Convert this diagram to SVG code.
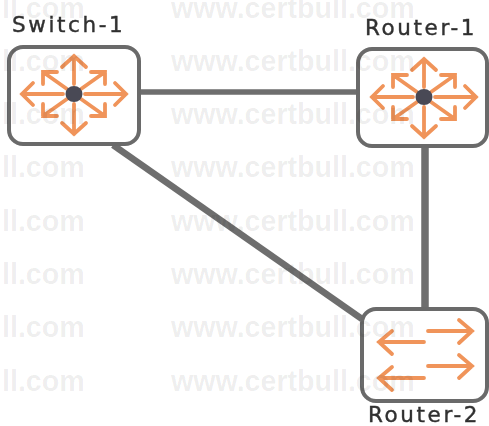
<svg xmlns="http://www.w3.org/2000/svg" xmlns:xlink="http://www.w3.org/1999/xlink" width="489" height="426" viewBox="0 0 489 426">
  <style>
    .box { fill: #ffffff; stroke: #6b6b6b; stroke-width: 4; }
    .link { stroke: #6e6e6e; fill: none; }
    .arrows { fill: none; stroke: #f0945a; stroke-width: 3.8; stroke-linecap: round; stroke-linejoin: miter; }
    .hub { fill: #4a4a54; }
    .label { font-family: "DejaVu Sans", sans-serif; font-size: 21.5px; fill: #303030; stroke: #303030; stroke-width: 0.4; letter-spacing: 2.6px; }
    .mark { font-family: "Liberation Sans", Arial, sans-serif; font-size: 28.6px; font-weight: 700; fill: #000000; fill-opacity: 0.075; }
  </style>
  <defs>
    <filter id="soft" x="-5%" y="-5%" width="110%" height="110%"><feGaussianBlur stdDeviation="0.7"/></filter>
    <g id="radial">
      <path class="arrows" d="M11,0H52M41,-11L52,0L41,11M-11,0H-52M-41,-11L-52,0L-41,11M0,-10V-38M-12,-27L0,-38L12,-27M0,10V40M-12,29L0,40L12,29"/>
      <path class="arrows" d="M-7,-5L-31,-22M-31,-10V-22H-17M7,-5L31,-22M31,-10V-22H17M-7,5L-31,22M-31,10V22H-17M7,5L31,22M31,10V22H17"/>
      <ellipse class="hub" cx="0" cy="0" rx="8.5" ry="8"/>
    </g>
  </defs>
  <rect width="489" height="426" fill="#ffffff"/>
  <g filter="url(#soft)">
    <g id="connectors">
      <line class="link" x1="139" y1="92" x2="358" y2="92" stroke-width="5.5"/>
      <line class="link" x1="425" y1="146" x2="425" y2="308" stroke-width="7.5"/>
      <line class="link" x1="113" y1="145" x2="362" y2="319" stroke-width="6.5"/>
    </g>
    <g id="switch-1">
      <rect class="box" x="9" y="47" width="130" height="97" rx="14"/>
      <use xlink:href="#radial" href="#radial" x="74" y="94"/>
      <text class="label" x="12" y="32">Switch-1</text>
    </g>
    <g id="router-1">
      <rect class="box" x="358" y="49" width="129" height="97" rx="14"/>
      <use xlink:href="#radial" href="#radial" x="424" y="97"/>
      <text class="label" x="365" y="35">Router-1</text>
    </g>
    <g id="router-2">
      <rect class="box" x="362" y="309" width="125" height="92" rx="14"/>
      <path class="arrows" d="M428,331H472M459,320L472,331L459,343M424,342H379M392,331L379,342L392,354M428,366H472M459,355L472,366L459,378M424,378H379M392,367L379,378L392,390"/>
      <text class="label" x="368" y="422">Router-2</text>
    </g>
  </g>
  <g id="watermark" class="mark">
    <text x="2" y="18">ll.com</text><text x="171" y="18">www.certbull.com</text>
    <text x="2" y="71">ll.com</text><text x="171" y="71">www.certbull.com</text>
    <text x="2" y="124">ll.com</text><text x="171" y="124">www.certbull.com</text>
    <text x="2" y="177">ll.com</text><text x="171" y="177">www.certbull.com</text>
    <text x="2" y="231">ll.com</text><text x="171" y="231">www.certbull.com</text>
    <text x="2" y="284">ll.com</text><text x="171" y="284">www.certbull.com</text>
    <text x="2" y="337">ll.com</text><text x="171" y="337">www.certbull.com</text>
    <text x="2" y="391">ll.com</text><text x="171" y="391">www.certbull.com</text>
  </g>
</svg>
